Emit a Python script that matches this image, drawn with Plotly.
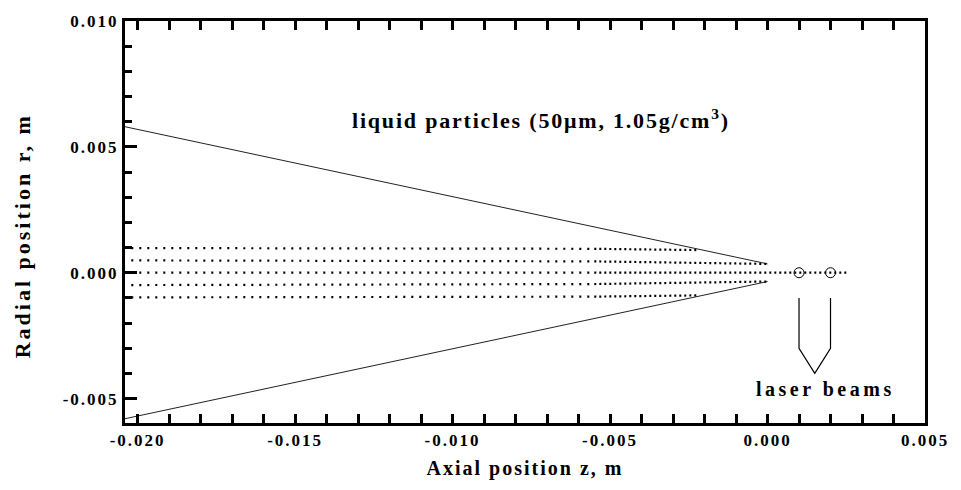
import plotly.graph_objects as go

# ---- data ----
cone_z = [-0.0204, 0.0]
cone_r_upper = [0.0058, 0.00035]
cone_r_lower = [-0.0058, -0.00035]

traj_sparse = {
    "r+1.0": ([-0.0202, -0.0055], [0.00098, 0.00095]),
    "r+0.5": ([-0.0202, -0.0055], [0.00049, 0.00045]),
    "r0":    ([-0.0202, -0.0055], [0.0, 0.0]),
    "r-0.5": ([-0.0202, -0.0055], [-0.00049, -0.00045]),
    "r-1.0": ([-0.0202, -0.0055], [-0.00098, -0.00095]),
}
traj_dense = {
    "r+1.0": ([-0.0055, -0.0022], [0.00095, 0.00090]),
    "r+0.5": ([-0.0055, -0.0020, 0.0], [0.00045, 0.00040, 0.00035]),
    "r0":    ([-0.0055, 0.0025], [0.0, 0.0]),
    "r-0.5": ([-0.0055, -0.0020, 0.0], [-0.00045, -0.00040, -0.00035]),
    "r-1.0": ([-0.0055, -0.0022], [-0.00095, -0.00090]),
}

beam_z = [0.001, 0.002]
beam_r = [0.0, 0.0]
bracket_z = [0.001, 0.001, 0.0015, 0.002, 0.002]
bracket_r = [-0.001, -0.003, -0.004, -0.003, -0.001]

x_range = [-0.0204, 0.005]
y_range = [-0.00597, 0.010]
x_tickvals = [-0.020, -0.019, -0.018, -0.017, -0.016, -0.015, -0.014, -0.013,
              -0.012, -0.011, -0.010, -0.009, -0.008, -0.007, -0.006, -0.005,
              -0.004, -0.003, -0.002, -0.001, 0.000, 0.001, 0.002, 0.003,
              0.004, 0.005]
x_ticklabels = ["-0.020", "", "", "", "", "-0.015", "", "", "", "", "-0.010",
                "", "", "", "", "-0.005", "", "", "", "", "0.000", "", "", "",
                "", "0.005"]
y_tickvals = [0.010, 0.005, 0.000, -0.005]
y_ticklabels = ["0.010", "0.005", "0.000", "-0.005"]
minor_step = 0.001

title_text = "liquid particles (50\u03bcm, 1.05g/cm<sup>3</sup>)"
title_pos = (-0.0072, 0.0061)
beam_label = "laser beams"
beam_label_pos = (0.00184, -0.0046)
x_title = "Axial position z, m"
y_title = "Radial position r, m"

FONT = "Liberation Serif"


def spaced(s, px):
    return f'<span style="letter-spacing:{px}px">{s}</span>' if s else ""


fig = go.Figure()

for rr in (cone_r_upper, cone_r_lower):
    fig.add_trace(go.Scatter(x=cone_z, y=rr, mode="lines",
                             line=dict(color="#222", width=1), hoverinfo="skip"))
for k, (zz, rr) in traj_sparse.items():
    fig.add_trace(go.Scatter(x=zz, y=rr, mode="lines",
                             line=dict(color="black", width=2.2, dash="2px,6px"),
                             hoverinfo="skip"))
for k, (zz, rr) in traj_dense.items():
    fig.add_trace(go.Scatter(x=zz, y=rr, mode="lines",
                             line=dict(color="black", width=2.2, dash="2px,3px"),
                             hoverinfo="skip"))
fig.add_trace(go.Scatter(x=beam_z, y=beam_r, mode="markers",
                         marker=dict(symbol="circle-open", size=10,
                                     color="black", line=dict(width=1)),
                         hoverinfo="skip"))
fig.add_trace(go.Scatter(x=bracket_z, y=bracket_r, mode="lines",
                         line=dict(color="black", width=1.2), hoverinfo="skip"))

fig.add_annotation(x=title_pos[0], y=title_pos[1], xref="x", yref="y",
                   text=spaced(title_text, 1.8), showarrow=False,
                   font=dict(family=FONT, size=22, color="black", weight="bold"))
fig.add_annotation(x=beam_label_pos[0], y=beam_label_pos[1], xref="x", yref="y",
                   text=spaced(beam_label, 3.5), showarrow=False,
                   font=dict(family=FONT, size=20, color="black", weight="bold"))
fig.add_annotation(x=0, y=0.4645, xref="paper", yref="paper", xshift=-103,
                   xanchor="center", yanchor="middle", textangle=-90,
                   text=spaced(y_title, 3), showarrow=False,
                   font=dict(family=FONT, size=22, color="black", weight="bold"))

tickfont = dict(family=FONT, size=17, color="black", weight="bold")
minor = dict(ticks="inside", ticklen=7, tickwidth=3, tickcolor="black",
             dtick=minor_step, tick0=0, showgrid=False)

fig.update_xaxes(
    range=x_range, tickmode="array", tickvals=x_tickvals,
    ticktext=[spaced(t, 2) for t in x_ticklabels],
    showline=True, linecolor="black", linewidth=3, mirror="ticks",
    ticks="inside", ticklen=9, tickwidth=3, tickcolor="black",
    showgrid=False, zeroline=False, tickfont=tickfont,
    title=dict(text=spaced(x_title, 2),
               font=dict(family=FONT, size=20, color="black", weight="bold"),
               standoff=12),
)
fig.update_yaxes(
    range=y_range, tickmode="array", tickvals=y_tickvals,
    ticktext=[spaced(t, 2) for t in y_ticklabels],
    showline=True, linecolor="black", linewidth=3, mirror=True,
    ticks="inside", ticklen=12, tickwidth=3, tickcolor="black",
    showgrid=False, zeroline=False, tickfont=tickfont, minor=minor,
)

fig.update_layout(
    width=961, height=490, showlegend=False,
    margin=dict(l=125, r=33, t=14, b=67),
    plot_bgcolor="white", paper_bgcolor="white",
)

fig.write_html("out.html")
